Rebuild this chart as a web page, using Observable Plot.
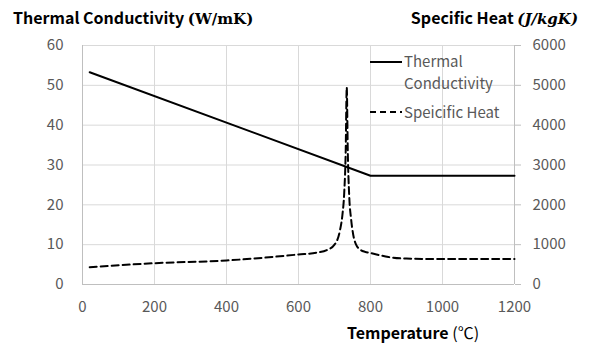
<!DOCTYPE html>
<html><head><meta charset="utf-8">
<script src="https://cdn.jsdelivr.net/npm/d3@7"></script>
<script src="https://cdn.jsdelivr.net/npm/@observablehq/plot@0.6"></script>
<style>body{margin:0;background:#fff}</style>
</head><body><div id="chart"></div>
<script>
const kTemps = [20, 800, 1200];
const kValues = [53.3, 27.3, 27.3];
const cpTemps = [20, 200, 400, 600, 650, 680, 700, 715, 722, 727, 731, 734, 737, 741, 746, 752, 760, 771, 785, 800, 850, 900, 1000, 1200];
const cpValues = [435, 535, 603, 754, 800, 870, 1000, 1350, 1750, 2300, 3300, 4950, 3300, 2200, 1650, 1250, 1000, 880, 820, 790, 690, 650, 640, 640];
const xTicks = [0, 200, 400, 600, 800, 1000, 1200];
const yLeftTicks = [0, 10, 20, 30, 40, 50, 60];
const yRightTicks = [0, 1000, 2000, 3000, 4000, 5000, 6000];
const CP_SCALE = 100; // right axis shares the left scale: 6000 J/kgK <-> 60 W/mK

const kData = kTemps.map((t, i) => ({t, v: kValues[i]}));
const cpData = cpTemps.map((t, i) => ({t, v: cpValues[i] / CP_SCALE}));

const FONT = "'Noto Sans CJK KR', 'Noto Sans', sans-serif";
const grey = "#595959";

const chart = Plot.plot({
  width: 593, height: 347,
  marginLeft: 82, marginRight: 79, marginTop: 45, marginBottom: 63,
  style: {fontFamily: FONT, fontSize: "15px", color: grey, background: "#fff"},
  x: {domain: [0, 1200]},
  y: {domain: [0, 60]},
  marks: [
    Plot.gridX(xTicks, {stroke: "#d9d9d9", strokeOpacity: 1}),
    Plot.gridY(yLeftTicks, {stroke: "#d9d9d9", strokeOpacity: 1}),
    Plot.ruleX([0, 1200], {stroke: "#bfbfbf"}),
    Plot.ruleY([0], {stroke: "#bfbfbf"}),
    Plot.axisX(xTicks, {tickSize: 0, tickPadding: 17, label: null, fill: grey, tickFormat: d => String(d)}),
    Plot.axisY(yLeftTicks, {anchor: "left", tickSize: 0, tickPadding: 19, label: null, fill: grey, tickFormat: d => String(d)}),
    Plot.axisY(yRightTicks.map(d => d / CP_SCALE), {anchor: "right", tickSize: 6, tickPadding: 12, label: null,
      stroke: "#bfbfbf", fill: grey, tickFormat: d => String(Math.round(d * CP_SCALE))}),
    Plot.line(cpData, {x: "t", y: "v", stroke: "black", strokeWidth: 2, strokeDasharray: "7,4", curve: "monotone-x"}),
    Plot.line(kData, {x: "t", y: "v", stroke: "black", strokeWidth: 2})
  ]
});
document.getElementById("chart").appendChild(chart);

const svg = d3.select(chart);
// titles
const t1 = svg.append("text").attr("x", 13).attr("y", 24).attr("text-anchor", "start").attr("font-family", FONT)
  .attr("font-size", 16).attr("font-weight", "bold").attr("fill", "#000");
t1.append("tspan").text("Thermal Conductivity ");
t1.append("tspan").attr("font-family", "'DejaVu Serif', serif").attr("font-size", 15).text("(W/mK)");

const t2 = svg.append("text").attr("x", 578).attr("y", 24).attr("text-anchor", "end").attr("font-family", FONT)
  .attr("font-size", 16).attr("font-weight", "bold").attr("fill", "#000");
t2.append("tspan").text("Specific Heat ");
t2.append("tspan").attr("font-family", "'DejaVu Serif', serif").attr("font-size", 15).attr("font-style", "italic").text("(J/kgK)");

const t3 = svg.append("text").attr("x", 347).attr("y", 339).attr("text-anchor", "start").attr("font-family", FONT)
  .attr("font-size", 16).attr("font-weight", "bold").attr("fill", "#000");
t3.append("tspan").text("Temperature ");
t3.append("tspan").attr("font-weight", "normal").text("(℃)");

// legend
const lg = svg.append("g").attr("font-family", FONT).attr("font-size", 15).attr("fill", grey).attr("text-anchor", "start");
lg.append("line").attr("x1", 370).attr("x2", 402).attr("y1", 62).attr("y2", 62).attr("stroke", "black").attr("stroke-width", 2);
lg.append("text").attr("x", 404).attr("y", 67).text("Thermal");
lg.append("text").attr("x", 404).attr("y", 89).text("Conductivity");
lg.append("line").attr("x1", 370).attr("x2", 402).attr("y1", 112).attr("y2", 112).attr("stroke", "black").attr("stroke-width", 2).attr("stroke-dasharray", "6,4");
lg.append("text").attr("x", 404).attr("y", 118).text("Speicific Heat");
</script>
</body></html>
